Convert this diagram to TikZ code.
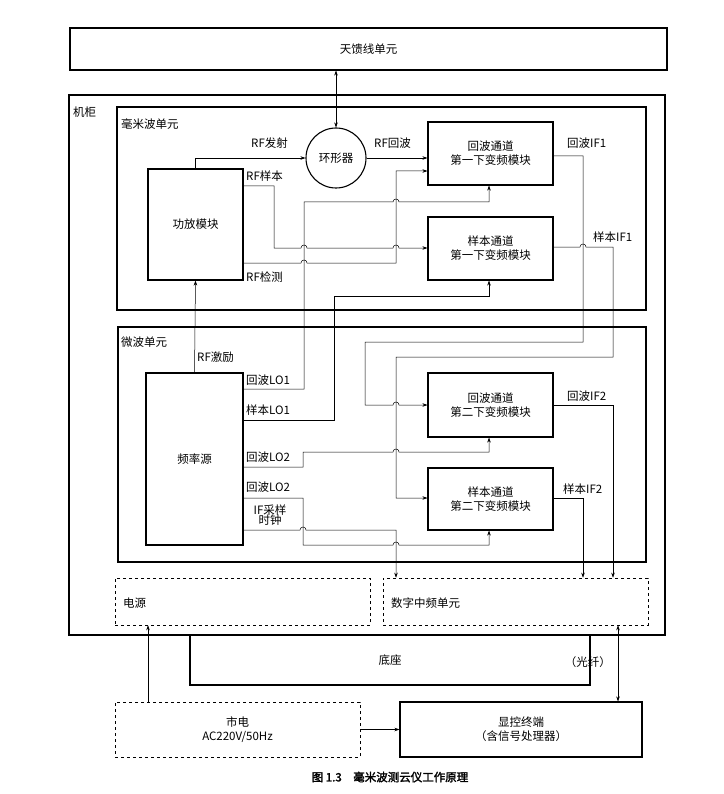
\documentclass[tikz,border=0pt]{standalone}
\usepackage{fontspec}
\setmainfont{Noto Sans CJK SC}[AutoFakeBold=2]
\usetikzlibrary{arrows.meta}
\newcommand\hopr[2]{-- (#1-3,#2) arc[start angle=180,end angle=360,radius=3]}
\begin{document}
\begin{tikzpicture}[x=1pt,y=-1pt,
  box/.style={draw,line width=1.1pt,minimum width=#1,inner sep=0pt,align=center},
  dbox/.style={draw,dashed,line width=0.6pt,inner sep=0pt},
  ln/.style={line width=0.5pt},
  arr/.style={ln,-{Stealth[length=5pt,width=3.5pt]}},
  lab/.style={font=\fontsize{11.5}{13}\selectfont,inner sep=1pt,align=center}]
\useasboundingbox (0,0) rectangle (723,794);
\fontsize{11.5}{14}\selectfont
% boxes
\node[box=597pt,minimum height=42pt] (tk) at (368.5,49) {天馈线单元};
\node[draw,line width=1.1pt,minimum width=596pt,minimum height=540pt] (jg) at (367,365) {};
\node[lab,anchor=west] at (72,112) {机柜};
\node[draw,line width=1.1pt,minimum width=529pt,minimum height=203pt] (mm) at (381.5,208.5) {};
\node[lab,anchor=west] at (120,124) {毫米波单元};
\node[draw,line width=1.1pt,minimum width=528pt,minimum height=235pt] (wb) at (382,444.5) {};
\node[lab,anchor=west] at (120,342) {微波单元};
\node[box=95pt,minimum height=111pt] (gf) at (195.5,224.5) {功放模块};
\node[draw,circle,line width=1.1pt,minimum size=60pt,inner sep=0pt] (hx) at (336,158) {环形器};
\node[box=125pt,minimum height=63pt] (h1) at (490.5,153.5) {回波通道\\第一下变频模块};
\node[box=125pt,minimum height=63pt] (y1) at (490.5,248.5) {样本通道\\第一下变频模块};
\node[box=97pt,minimum height=172pt] (pl) at (194.5,459) {频率源};
\node[box=125pt,minimum height=64pt] (h2) at (490.5,405) {回波通道\\第二下变频模块};
\node[box=125pt,minimum height=62pt] (y2) at (490.5,499) {样本通道\\第二下变频模块};
\node[dbox,minimum width=255pt,minimum height=47pt] (dy) at (242.5,601.5) {};
\node[lab,anchor=west] at (122,603) {电源};
\node[dbox,minimum width=265pt,minimum height=47pt] (sz) at (515.5,601.5) {};
\node[lab,anchor=west] at (390,603) {数字中频单元};
\node[draw,line width=1.1pt,minimum width=400pt,minimum height=50pt] (dz) at (390,660) {底座};
\node[dbox,minimum width=245pt,minimum height=55pt,align=center] (sd) at (237.5,729.5) {市电\\AC220V/50Hz};
\node[box=242pt,minimum height=55pt] (xk) at (521,729.5) {显控终端\\（含信号处理器）};
\node[font=\bfseries\fontsize{11.5}{13}\selectfont] (cap) at (390,777) {图 1.3\quad 毫米波测云仪工作原理};
% connectors
\draw[ln,{Stealth[length=5pt,width=3.5pt]}-{Stealth[length=5pt,width=3.5pt]}] (tk.south -| hx.north) -- (hx.north);
\draw[arr] (gf.north) |- (hx.west);
\draw[arr] (hx.east) -- (hx.east -| h1.west);
\draw[arr] (gf.east |- 0,186) -- (274,186) -- (274,248) \hopr{304}{248} \hopr{396}{248} -- (y1.west |- 0,248);
\draw[arr] (gf.east |- 0,263) \hopr{304}{263} -- (396,263) -- (396,171) -- (h1.west |- 0,171);
\draw[arr] (pl.east |- 0,389) -- (304,389) -- (304,202) \hopr{396}{202} -- (489,202) -- (h1.south -| 489,0);
\draw[arr] (pl.east |- 0,420) -- (334,420) -- (334,296) -- (489,296) -- (y1.south -| 489,0);
\draw[arr] (pl.north) -- (gf.south);
\draw[arr] (h1.east |- 0,156) -- (583,156) -- (583,342) -- (365,342) -- (365,405) \hopr{396}{405} -- (h2.west |- 0,405);
\draw[arr] (y1.east |- 0,247) \hopr{583}{247} -- (613,247) -- (613,357) -- (396,357) -- (396,498) -- (y2.west |- 0,498);
\draw[arr] (pl.east |- 0,467) -- (303,467) -- (303,452) \hopr{396}{452} -- (489,452) -- (h2.south -| 489,0);
\draw[arr] (pl.east |- 0,498) -- (303,498) -- (303,545) \hopr{396}{545} -- (489,545) -- (y2.south -| 489,0);
\draw[arr] (pl.east |- 0,530) \hopr{303}{530} -- (396,530) -- (sz.north -| 396,0);
\draw[arr] (h2.east |- 0,405) -- (613,405) -- (sz.north -| 613,0);
\draw[arr] (y2.east |- 0,498) -- (583,498) -- (sz.north -| 583,0);
\draw[arr] (sd.north -| 148,0) -- (dy.south -| 148,0);
\draw[arr] (sd.east) -- (xk.west);
\draw[ln,{Stealth[length=5pt,width=3.5pt]}-{Stealth[length=5pt,width=3.5pt]}] (sz.south -| 618,0) -- (xk.north -| 618,0);
% labels
\node[lab,anchor=west] at (250,143) {RF发射};
\node[lab,anchor=west] at (373,143) {RF回波};
\node[lab,anchor=west] at (566,143) {回波IF1};
\node[lab,anchor=west] at (245,176) {RF样本};
\node[lab,anchor=west] at (592,237) {样本IF1};
\node[lab,anchor=west] at (245,277) {RF检测};
\node[lab,anchor=west] at (196,357) {RF激励};
\node[lab,anchor=west] at (245,380) {回波LO1};
\node[lab,anchor=west] at (245,410) {样本LO1};
\node[lab,anchor=west] at (245,457) {回波LO2};
\node[lab,anchor=west] at (245,487) {回波LO2};
\node[lab] at (270,515) {IF采样\\[-3pt]时钟};
\node[lab,anchor=west] at (566,396) {回波IF2};
\node[lab,anchor=west] at (562,489) {样本IF2};
\node[lab,anchor=east] at (612,662) {（光纤）};
\end{tikzpicture}
\end{document}
